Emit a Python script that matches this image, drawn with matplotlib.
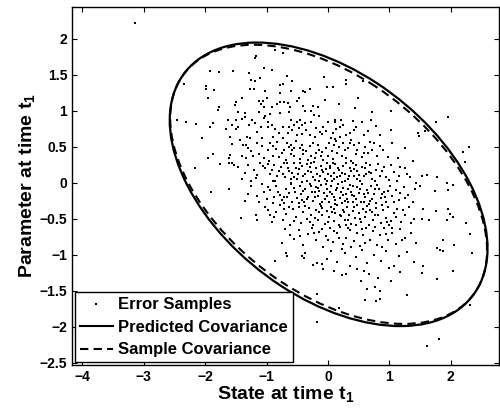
import numpy as np
import matplotlib.pyplot as plt
from matplotlib.patches import Ellipse
from matplotlib.lines import Line2D

plt.rcParams['font.family'] = ['Liberation Sans', 'DejaVu Sans']
plt.rcParams['font.weight'] = 'bold'
plt.rcParams['mathtext.fontset'] = 'custom'
plt.rcParams['mathtext.rm'] = 'Liberation Sans:bold'
plt.rcParams['mathtext.it'] = 'Liberation Sans:bold'
plt.rcParams['mathtext.bf'] = 'Liberation Sans:bold'
plt.rcParams['mathtext.default'] = 'bf'

# ellipse parameters (centre + scaled covariance)
center = (0.01, -0.02)
pred_cov = [[6.70, -2.30], [-2.30, 3.88]]
samp_cov = [[6.66, -2.37], [-2.37, 3.76]]

# error samples, estimated by region
samples_top = [
    (-3.15, 2.22), (-1.17, 1.76), (-0.86, 1.84), (-0.74, 1.80), (-1.19, 1.74),
    (-1.92, 1.56), (-1.77, 1.54), (-1.55, 1.55), (-1.28, 1.53), (-1.04, 1.59), (-0.92, 1.57),
    (-2.34, 1.38), (-1.98, 1.35), (-1.99, 1.31), (-1.85, 1.29), (-1.25, 1.43), (-1.19, 1.41),
    (-1.10, 1.46), (-0.67, 1.49), (-0.58, 1.42), (-0.78, 1.36), (-0.73, 1.37), (-1.27, 1.31),
    (-1.21, 1.30), (-1.03, 1.28), (-0.60, 1.27), (-0.37, 1.26), (-0.30, 1.31), (-0.79, 1.25),
    (0.30, 1.43), (0.29, 1.38), (0.57, 1.42), (0.08, 1.33), (-0.07, 1.47), (-0.02, 1.33), (-0.40, 1.28),
    (-1.95, 1.18), (-1.50, 1.12), (-1.51, 1.08), (-1.78, 1.05), (-1.79, 1.01), (-1.47, 0.98),
    (-1.40, 1.18), (-1.13, 1.14), (-1.06, 1.14), (-1.09, 1.09), (-1.00, 1.18), (-0.78, 1.13),
    (-0.72, 1.13), (-0.83, 1.10), (-0.65, 1.11), (-0.48, 1.18), (-0.51, 1.14), (-1.04, 1.05),
    (-0.92, 1.05), (-0.62, 1.05), (-0.63, 0.99), (-0.41, 1.07), (-0.25, 1.07), (-0.17, 1.05),
    (-1.35, 0.97), (-1.13, 0.98), (-0.95, 0.96), (-1.02, 0.93), (-0.79, 0.97), (-0.37, 1.00),
    (-0.27, 1.00), (-0.23, 0.94), (-0.14, 0.93), (0.49, 1.18), (0.44, 1.04), (0.71, 0.99),
    (1.03, 1.00), (-0.05, 1.15), (0.18, 1.10), (-1.35, 0.91), (-1.05, 0.90),
]

samples_upper_mid = [
    (-2.46, 0.88), (-2.31, 0.84), (-2.15, 0.82), (-1.88, 0.83), (-1.93, 0.77), (-1.63, 0.87),
    (-1.50, 0.87), (-1.56, 0.81), (-1.46, 0.78), (-1.50, 0.75), (-1.66, 0.75), (-1.60, 0.64),
    (-2.06, 0.62), (-1.43, 0.60), (-1.40, 0.89), (-1.24, 0.88), (-1.29, 0.81), (-1.19, 0.83),
    (-1.09, 0.77), (-0.97, 0.77), (-0.86, 0.75), (-0.73, 0.78), (-0.63, 0.78), (-0.59, 0.73),
    (-0.50, 0.85), (-0.45, 0.88), (-0.42, 0.80), (-0.38, 0.83), (-0.47, 0.76), (-0.36, 0.74),
    (-0.28, 0.85), (-0.08, 0.78), (-0.13, 0.71), (-1.32, 0.64), (-1.27, 0.62), (-1.08, 0.63),
    (-0.89, 0.64), (-0.73, 0.62), (-0.51, 0.66), (-0.30, 0.67), (-0.22, 0.64), (-0.10, 0.68),
    (0.11, 0.88), (0.12, 0.84), (0.21, 0.87), (0.55, 0.85), (0.70, 0.87), (0.46, 0.77),
    (0.43, 0.73), (0.13, 0.75), (0.19, 0.77), (0.35, 0.70), (0.65, 0.72), (1.02, 0.74),
    (1.48, 0.65), (0.05, 0.63), (0.12, 0.61), (0.20, 0.64), (0.30, 0.66), (0.38, 0.60),
    (0.85, 0.67), (1.95, 0.91), (1.76, 0.84), (1.58, 0.72), (1.47, 0.69), (-0.98, 0.85),
    (-0.92, 0.81), (-0.60, 0.88), (0.00, 0.85),
    (-1.56, 0.54), (-1.88, 0.40), (-1.95, 0.35), (-1.60, 0.39), (-1.62, 0.34), (-1.39, 0.53),
    (-1.33, 0.52), (-1.30, 0.48), (-1.15, 0.55), (-0.94, 0.56), (-0.89, 0.51), (-0.85, 0.47),
    (-0.67, 0.55), (-0.63, 0.50), (-0.58, 0.45), (-0.60, 0.53), (-0.55, 0.48), (-0.43, 0.53),
    (-0.45, 0.49), (-0.40, 0.46), (-0.25, 0.55), (-0.17, 0.53), (-0.14, 0.46), (-0.10, 0.43),
    (-1.40, 0.37), (-1.33, 0.35), (-1.22, 0.38), (-1.12, 0.40), (-1.05, 0.35), (-0.90, 0.37),
    (-0.80, 0.36), (-0.75, 0.41), (-0.55, 0.38), (-0.46, 0.33), (-0.40, 0.40), (-0.32, 0.32),
    (-0.27, 0.38), (-0.22, 0.35), (-0.12, 0.38), (-0.08, 0.32), (0.00, 0.38), (0.02, 0.55),
    (0.10, 0.52), (0.18, 0.50), (0.25, 0.56), (0.32, 0.48), (0.42, 0.52), (0.50, 0.55),
    (0.60, 0.50), (0.72, 0.46), (1.04, 0.56), (0.15, 0.42), (0.22, 0.38), (0.30, 0.35),
    (0.45, 0.40), (0.55, 0.36), (0.65, 0.42), (0.80, 0.38), (0.90, 0.45), (1.14, 0.35),
    (1.38, 0.30), (2.20, 0.43), (2.30, 0.50), (0.08, 0.33), (0.38, 0.31), (-0.68, 0.32),
    (-0.98, 0.45), (0.75, 0.55), (1.25, 0.48),
]

samples_center = [
    (-1.61, 0.28), (-1.56, 0.27), (-1.53, 0.25), (-1.76, 0.26), (-2.17, 0.21), (-1.47, 0.22),
    (2.23, 0.29), (1.29, 0.13), (1.43, 0.00), (1.53, 0.10), (1.61, 0.11), (1.77, 0.08),
    (1.93, 0.00), (2.04, -0.03), (-1.30, 0.25), (-1.20, 0.18), (-1.10, 0.28), (-1.02, 0.20),
    (-0.95, 0.12), (-0.88, 0.25), (-0.80, 0.16), (-0.72, 0.28), (-0.70, 0.08), (-0.65, 0.20),
    (-0.58, 0.14), (-0.55, 0.27), (-0.50, 0.05), (-0.47, 0.19), (-0.42, 0.24), (-0.40, 0.10),
    (-0.35, 0.02), (-0.33, 0.17), (-0.28, 0.27), (-0.25, 0.08), (-0.20, 0.20), (-0.18, 0.12),
    (-0.15, 0.03), (-0.12, 0.24), (-0.08, 0.15), (-0.05, 0.06), (-0.02, 0.28), (0.00, 0.12),
    (0.03, 0.20), (0.06, 0.02), (0.10, 0.14), (0.12, 0.26), (0.15, 0.08), (0.18, 0.18),
    (0.22, 0.01), (0.25, 0.24), (0.28, 0.12), (0.32, 0.05), (0.35, 0.20), (0.40, 0.27),
    (0.42, 0.10), (0.48, 0.17), (0.52, 0.03), (0.56, 0.22), (0.62, 0.12), (0.68, 0.25),
    (0.72, 0.05), (0.78, 0.18), (0.85, 0.10), (0.92, 0.22), (1.00, 0.04), (1.08, 0.15),
    (1.18, 0.22), (-1.40, 0.05), (-1.25, 0.02), (-0.60, 0.00), (-0.90, 0.03), (0.62, 0.28),
    (-0.30, 0.22), (-1.35, 0.14), (-1.18, 0.07), (-0.98, 0.26), (-0.83, 0.09), (-0.77, 0.22),
    (-0.61, 0.06), (-0.52, 0.21), (-0.37, 0.13), (-0.23, 0.29), (-0.13, 0.10), (-0.04, 0.19),
    (0.08, 0.27), (0.20, 0.10), (0.27, 0.03), (0.37, 0.16), (0.45, 0.25), (0.58, 0.09),
    (0.66, 0.15), (0.81, 0.26), (0.95, 0.08), (1.12, 0.02), (1.25, 0.20), (1.34, 0.08),
    (-0.45, 0.28), (0.05, 0.09),
    (-1.91, -0.13), (-1.61, -0.09), (-1.35, -0.25), (1.50, -0.05), (1.74, -0.11), (1.96, -0.10),
    (-1.25, -0.05), (-1.15, -0.18), (-1.08, -0.02), (-1.00, -0.22), (-0.95, -0.10), (-0.90, -0.28),
    (-0.84, -0.05), (-0.79, -0.17), (-0.75, -0.24), (-0.69, -0.08), (-0.66, -0.20), (-0.61, -0.02),
    (-0.58, -0.27), (-0.54, -0.12), (-0.50, -0.21), (-0.46, -0.04), (-0.44, -0.15), (-0.39, -0.27),
    (-0.37, -0.09), (-0.32, -0.19), (-0.30, -0.01), (-0.26, -0.12), (-0.24, -0.25), (-0.19, -0.06),
    (-0.17, -0.18), (-0.13, -0.29), (-0.11, -0.03), (-0.07, -0.14), (-0.05, -0.23), (-0.02, -0.09),
    (0.01, -0.27), (0.05, -0.04), (0.07, -0.16), (0.11, -0.24), (0.13, -0.10), (0.17, -0.02),
    (0.19, -0.21), (0.23, -0.28), (0.25, -0.07), (0.29, -0.15), (0.31, -0.23), (0.35, -0.03),
    (0.37, -0.12), (0.41, -0.26), (0.43, -0.18), (0.47, -0.06), (0.50, -0.14), (0.54, -0.27),
    (0.56, -0.02), (0.61, -0.20), (0.63, -0.10), (0.68, -0.25), (0.70, -0.05), (0.75, -0.16),
    (0.78, -0.28), (0.83, -0.08), (0.86, -0.21), (0.91, -0.12), (0.95, -0.26), (1.01, -0.04),
    (1.05, -0.18), (1.11, -0.10), (1.15, -0.24), (1.23, -0.06), (1.30, -0.17), (1.38, -0.26),
    (-1.30, -0.15), (-1.05, -0.12), (-0.88, -0.20), (-0.63, -0.14), (-0.43, -0.24), (-0.21, -0.13),
    (-0.01, -0.18), (0.12, -0.29), (0.24, -0.17), (0.41, -0.05), (0.58, -0.16), (0.76, -0.09),
    (0.93, -0.19), (1.18, -0.14), (1.42, -0.08), (-0.72, -0.28), (0.33, -0.26), (0.66, -0.29),
    (-0.16, -0.07),
]

samples_lower = [
    (-1.41, -0.49), (-1.16, -0.51), (-1.18, -0.45), (-0.94, -0.44), (-0.97, -0.38), (1.55, -0.36),
    (1.76, -0.39), (1.96, -0.36), (1.99, -0.43), (2.03, -0.47), (1.53, -0.50), (1.65, -0.51),
    (1.93, -0.51), (2.25, -0.56),
    (-1.02, -0.34), (-0.92, -0.55), (-0.85, -0.40), (-0.78, -0.31), (-0.74, -0.52), (-0.68, -0.43),
    (-0.62, -0.58), (-0.57, -0.36), (-0.52, -0.47), (-0.48, -0.33), (-0.44, -0.56), (-0.40, -0.41),
    (-0.35, -0.50), (-0.31, -0.35), (-0.27, -0.44), (-0.24, -0.59), (-0.20, -0.38), (-0.16, -0.51),
    (-0.12, -0.32), (-0.09, -0.45), (-0.05, -0.57), (-0.02, -0.39), (0.02, -0.48), (0.05, -0.34),
    (0.09, -0.53), (0.12, -0.42), (0.15, -0.31), (0.18, -0.58), (0.21, -0.46), (0.24, -0.37),
    (0.28, -0.52), (0.31, -0.33), (0.34, -0.44), (0.37, -0.57), (0.40, -0.39), (0.44, -0.49),
    (0.47, -0.31), (0.50, -0.42), (0.54, -0.55), (0.57, -0.36), (0.60, -0.47), (0.64, -0.32),
    (0.67, -0.58), (0.71, -0.41), (0.74, -0.51), (0.78, -0.35), (0.82, -0.45), (0.86, -0.56),
    (0.90, -0.38), (0.94, -0.49), (0.98, -0.33), (1.03, -0.53), (1.08, -0.42), (1.13, -0.36),
    (1.19, -0.55), (1.25, -0.45), (1.32, -0.34), (1.40, -0.50), (-0.30, -0.55), (0.26, -0.40),
    (0.69, -0.37), (0.07, -0.41), (-0.63, -0.33), (1.00, -0.58), (0.45, -0.59), (-0.10, -0.35),
    (-0.75, -0.83), (2.31, -0.71), (1.88, -0.80), (2.05, -0.86), (1.78, -0.90),
    (-0.70, -0.64), (-0.55, -0.78), (-0.48, -0.66), (-0.40, -0.87), (-0.33, -0.71), (-0.26, -0.62),
    (-0.20, -0.80), (-0.14, -0.68), (-0.08, -0.89), (-0.03, -0.74), (0.03, -0.63), (0.08, -0.82),
    (0.14, -0.70), (0.20, -0.61), (0.25, -0.85), (0.30, -0.76), (0.36, -0.65), (0.42, -0.81),
    (0.47, -0.69), (0.52, -0.88), (0.57, -0.73), (0.62, -0.62), (0.68, -0.79), (0.73, -0.67),
    (0.79, -0.86), (0.85, -0.72), (0.91, -0.63), (0.97, -0.80), (1.04, -0.70), (1.11, -0.85),
    (1.18, -0.64), (1.26, -0.77), (1.35, -0.69), (1.44, -0.83), (-0.62, -0.72), (0.10, -0.67),
    (0.55, -0.64), (0.38, -0.89), (-0.10, -0.64), (0.88, -0.89),
    (-0.42, -1.02), (-0.37, -0.98), (-0.68, -0.97), (-0.86, -1.09), (-0.66, -1.01), (-0.39, -1.04),
    (-0.25, -1.14), (-0.18, -1.12), (-0.10, -1.13), (-0.08, -1.19), (1.82, -0.93), (1.87, -0.95),
    (2.35, -0.97), (1.55, -1.15),
    (0.05, -0.95), (0.15, -1.10), (0.27, -0.98), (0.35, -1.16), (0.45, -1.03), (0.56, -0.93),
    (0.63, -1.12), (0.75, -1.00), (0.86, -1.08), (0.95, -0.94), (1.07, -1.15), (1.16, -1.02),
    (1.28, -0.96), (1.40, -1.10), (-0.02, -1.06), (0.48, -1.19), (0.22, -0.92), (1.00, -1.18),
    (1.53, -1.25), (2.04, -1.23), (1.78, -1.34), (0.64, -1.47), (0.77, -1.44), (1.02, -1.36),
    (0.82, -1.32), (0.53, -1.36), (0.22, -1.28), (0.29, -1.26), (0.10, -1.22), (0.58, -1.22),
    (0.66, -1.26), (1.18, -1.24), (0.85, -1.50),
    (-0.18, -1.55), (1.28, -1.56), (0.60, -1.63), (0.78, -1.64), (0.85, -1.62), (0.18, -1.74),
    (2.32, -1.69), (-0.18, -1.93), (1.62, -2.27), (1.80, -2.17),
]

samples_core_extra = [
    (-1.15, 0.11), (-1.06, 0.23), (-0.92, 0.18), (-0.86, 0.02), (-0.74, 0.13), (-0.67, 0.27),
    (-0.56, 0.08), (-0.49, 0.13), (-0.43, 0.01), (-0.34, 0.26), (-0.27, 0.15), (-0.21, 0.04),
    (-0.10, 0.18), (-0.01, 0.03), (0.04, 0.24), (0.09, 0.06), (0.16, 0.21), (0.23, 0.14),
    (0.30, 0.27), (0.34, 0.09), (0.43, 0.19), (0.51, 0.11), (0.60, 0.20), (0.70, 0.14),
    (0.76, 0.02), (0.88, 0.16), (1.03, 0.25), (1.15, 0.10), (-0.63, 0.16), (0.47, 0.06),
    (-1.12, -0.27), (-0.98, -0.06), (-0.82, -0.12), (-0.71, -0.19), (-0.56, -0.07), (-0.48, -0.28),
    (-0.41, -0.11), (-0.34, -0.23), (-0.28, -0.05), (-0.22, -0.20), (-0.09, -0.26), (-0.04, -0.02),
    (0.03, -0.12), (0.09, -0.20), (0.15, -0.07), (0.21, -0.13), (0.27, -0.25), (0.39, -0.17),
    (0.45, -0.22), (0.52, -0.08), (0.59, -0.27), (0.65, -0.14), (0.72, -0.22), (0.80, -0.03),
    (0.88, -0.15), (0.98, -0.11), (1.08, -0.27), (1.26, -0.21), (-0.14, -0.11), (0.32, -0.09),
    (-1.25, 0.44), (-1.08, 0.51), (-0.83, 0.57), (-0.71, 0.46), (-0.52, 0.58), (-0.36, 0.44),
    (-0.30, 0.51), (-0.19, 0.41), (-0.04, 0.49), (0.06, 0.44), (0.13, 0.58), (0.27, 0.45),
    (0.36, 0.55), (0.48, 0.45), (0.58, 0.41), (0.68, 0.57), (0.84, 0.51), (0.97, 0.36),
    (-0.61, 0.40), (-0.96, 0.31),
    (-0.88, -0.47), (-0.71, -0.36), (-0.55, -0.53), (-0.38, -0.32), (-0.22, -0.49), (-0.14, -0.41),
    (0.00, -0.55), (0.10, -0.36), (0.19, -0.44), (0.33, -0.51), (0.42, -0.34), (0.52, -0.50),
    (0.62, -0.40), (0.76, -0.44), (0.88, -0.31), (0.96, -0.54), (1.10, -0.48), (1.22, -0.37),
    (1.35, -0.56), (0.29, -0.59),
    (-1.15, 0.71), (-0.80, 0.69), (-0.55, 0.80), (-0.42, 0.68), (-0.20, 0.76), (-0.03, 0.72),
    (0.25, 0.81), (0.40, 0.86), (0.58, 0.66), (0.78, 0.79), (-0.65, 0.70), (0.08, 0.70),
    (-0.45, -0.74), (-0.23, -0.69), (0.00, -0.80), (0.18, -0.76), (0.33, -0.62), (0.60, -0.84),
    (0.76, -0.61), (0.95, -0.71), (1.20, -0.80), (1.05, -0.62),
]

xticks = [-4, -3, -2, -1, 0, 1, 2]
yticks = [-2.5, -2, -1.5, -1, -0.5, 0, 0.5, 1, 1.5, 2]
ytick_labels = ['\u22122.5', '\u22122', '\u22121.5', '\u22121', '\u22120.5', '0', '0.5', '1', '1.5', '2']
xtick_labels = ['\u22124', '\u22123', '\u22122', '\u22121', '0', '1', '2']


def cov_ellipse(cov, **kw):
    vals, vecs = np.linalg.eigh(np.array(cov))
    angle = np.degrees(np.arctan2(vecs[1, 1], vecs[0, 1]))
    return Ellipse(center, 2 * np.sqrt(vals[1]), 2 * np.sqrt(vals[0]), angle=angle,
                   fill=False, edgecolor='k', **kw)


samples = samples_top + samples_upper_mid + samples_center + samples_lower + samples_core_extra
err_x = [p[0] for p in samples]
err_y = [p[1] for p in samples]

fig = plt.figure(figsize=(5.0, 4.11), dpi=100)
ax = fig.add_axes([0.144, 0.112, 0.854, 0.871])

ax.plot(err_x, err_y, 's', color='k', markersize=1.6, markeredgewidth=0)
ax.add_patch(cov_ellipse(pred_cov, linewidth=1.6))
ax.add_patch(cov_ellipse(samp_cov, linewidth=1.5, linestyle=(0, (4, 2.5))))

ax.set_xlim(-4.17, 2.785)
ax.set_ylim(-2.53, 2.444)
ax.set_xticks(xticks, labels=xtick_labels)
ax.set_yticks(yticks, labels=ytick_labels)
ax.tick_params(direction='in', top=True, right=True, length=3.5, width=0.8, labelsize=10)
for s in ax.spines.values():
    s.set_linewidth(1.0)

ax.set_xlabel('State at time t$_1$', fontsize=14, fontweight='bold', labelpad=0)
ax.set_ylabel('Parameter at time t$_1$', fontsize=14, fontweight='bold', labelpad=2)

handles = [
    Line2D([], [], marker='s', color='k', linestyle='none', markersize=1.8, markeredgewidth=0),
    Line2D([], [], color='k', linewidth=1.5),
    Line2D([], [], color='k', linewidth=1.5, linestyle=(0, (4, 2.5))),
]
labels = ['Error Samples', 'Predicted Covariance', 'Sample Covariance']
leg = ax.legend(handles, labels, loc='lower left', fontsize=12, frameon=True, fancybox=False,
                edgecolor='k', framealpha=1, borderaxespad=0.15, handlelength=2.0,
                handletextpad=0.3, labelspacing=0.45, borderpad=0.3)
leg.get_frame().set_linewidth(1.0)

fig.savefig('out.png', dpi=100)
